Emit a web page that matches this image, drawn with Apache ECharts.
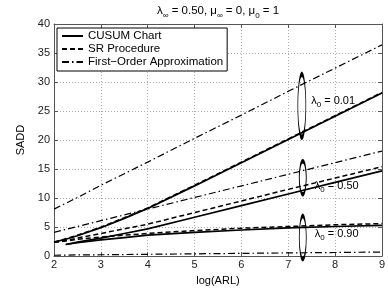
<!DOCTYPE html>
<html><head><meta charset="utf-8">
<script src="https://cdn.jsdelivr.net/npm/echarts@6/dist/echarts.min.js"></script>
<style>html,body{margin:0;padding:0;background:#fff}#c{width:388px;height:291px}</style>
</head><body><div id="c"></div>
<script>
// log(ARL) positions
const xs = [2, 2.25, 2.5, 3, 3.5, 4, 5, 6, 7, 8, 9];
// lambda0 = 0.01
const cusum001 = [2.4, 2.9, 3.5, 4.9, 6.5, 8.2, 12.1, 16.1, 20.1, 24.1, 28.1];
const sr001    = [2.4, 3.0, 3.6, 5.0, 6.6, 8.3, 12.2, 16.2, 20.2, 24.2, 28.2];
const fo001    = [8.1, 9.1, 10.1, 12.2, 14.2, 16.2, 20.3, 24.3, 28.4, 32.4, 36.4];
// lambda0 = 0.50
const cusum050 = [null, 2.0, 2.4, 3.1, 3.9, 4.7, 6.7, 8.7, 10.7, 12.7, 14.7];
const sr050    = [2.4, 2.7, 3.1, 3.9, 4.7, 5.5, 7.5, 9.5, 11.5, 13.45, 15.4];
const fo050    = [4.1, 4.6, 5.1, 6.1, 7.1, 8.1, 10.1, 12.1, 14.1, 16.1, 18.1];
// lambda0 = 0.90
const cusum090 = [null, 2.0, 2.3, 2.8, 3.2, 3.6, 4.1, 4.5, 4.85, 5.1, 5.3];
const sr090    = [2.4, 2.6, 2.9, 3.3, 3.6, 3.9, 4.4, 4.8, 5.1, 5.4, 5.6];
const fo090    = [0.15, 0.17, 0.2, 0.23, 0.27, 0.31, 0.39, 0.47, 0.55, 0.62, 0.7];
// annotations (data coords)
const annoLabels = ['0.01', '0.50', '0.90'];
const annoX = [7.29, 7.31, 7.31];
const annoY = [25.9, 13.5, 3.2];

const NAMES = ['CUSUM Chart', 'SR Procedure', 'First\u2212Order Approximation'];
const FONT = 'Liberation Sans, Arial, Helvetica, sans-serif';
function pts(ys){ return xs.map((x,i)=> ys[i]==null ? [x, null] : [x, ys[i]]); }
const styles = [
  {type:'solid', width:1.7},
  {type:[5,3], width:1.5},
  {type:[7,3,1.5,3], width:1.2}
];
const groups = [[cusum001, sr001, fo001],[cusum050, sr050, fo050],[cusum090, sr090, fo090]];
const series = [];
groups.forEach(g => g.forEach((ys, k) => {
  series.push({
    name: NAMES[k], type:'line', data: pts(ys), showSymbol:false, symbol:'none',
    connectNulls:false, animation:false, silent:true,
    lineStyle: Object.assign({color:'#000'}, styles[k]), itemStyle:{color:'#000'}
  });
}));
const ELL = 'path://M0,50 A50,50 0 1,0 100,50 A50,50 0 1,0 0,50 Z';
const ellSizes = [[8,63],[7,33],[7,43]];
const lblOffsets = [[5,-5],[8,8],[8,-4]];
series.push({
  name:'annot', type:'scatter', data:[], animation:false, silent:true,
  markPoint:{
    animation:false, silent:true,
    data: annoLabels.map((t,i)=>({
      coord:[annoX[i], annoY[i]], symbol: ELL, symbolSize: ellSizes[i],
      itemStyle:{color:'rgba(0,0,0,0)', borderColor:'#000', borderWidth:2},
      label:{show:true, position:'right', distance:lblOffsets[i][0], offset:[0,lblOffsets[i][1]],
        formatter:'{a|\u03bb}{b|0}{a| = '+t+'}',
        rich:{a:{fontSize:11, fontFamily:FONT, color:'#000', lineHeight:16},
              b:{fontSize:8, fontFamily:FONT, color:'#000', lineHeight:16, verticalAlign:'bottom'}}}
    }))
  }
});
const axisCommon = {
  axisLine:{show:true, onZero:false, lineStyle:{color:'#555', width:1}},
  axisTick:{show:true, inside:true, length:4, lineStyle:{color:'#555'}},
};
const chart = echarts.init(document.getElementById('c'), null, {renderer:'canvas'});
chart.setOption({
  animation:false,
  backgroundColor:'#fff',
  title:{
    text:'{a|\u03bb}{b|\u221e}{a| = 0.50, \u03bc}{b|\u221e}{a| = 0, \u03bc}{b|0}{a| = 1}',
    left:157, top:2, padding:0,
    textStyle:{fontWeight:'normal', rich:{a:{fontSize:11.5, fontWeight:'normal', fontFamily:FONT, color:'#000', lineHeight:18},
                     b:{fontSize:8, fontWeight:'normal', fontFamily:FONT, color:'#000', lineHeight:18, verticalAlign:'bottom'}}}
  },
  legend:{
    data:NAMES, orient:'vertical', left:57, top:28, itemWidth:21, itemHeight:12, itemGap:1,
    padding:[2,4,3,4], borderColor:'#000', borderWidth:1, backgroundColor:'#fff',
    itemStyle:{opacity:0, color:'rgba(0,0,0,0)', borderWidth:0},
    textStyle:{fontSize:11.5, fontFamily:FONT, color:'#000'}, selectedMode:false, z:10
  },
  grid:{left:54, right:6, top:24, bottom:28, containLabel:false},
  xAxis:[
    Object.assign({type:'value', min:2, max:9, interval:1, position:'bottom',
      name:'log(ARL)', nameLocation:'middle', nameGap:14,
      nameTextStyle:{fontSize:11, fontFamily:FONT, color:'#000'},
      axisLabel:{fontSize:11, fontFamily:FONT, color:'#222', margin:3},
      splitLine:{show:true, lineStyle:{type:[1,2], color:'#aaa', width:1}}}, axisCommon),
    Object.assign({type:'value', min:2, max:9, interval:1, position:'top',
      axisLabel:{show:false}, splitLine:{show:false}}, axisCommon)
  ],
  yAxis:[
    Object.assign({type:'value', min:0, max:40, interval:5, position:'left',
      name:'SADD', nameLocation:'middle', nameGap:20,
      nameTextStyle:{fontSize:11, fontFamily:FONT, color:'#000'},
      axisLabel:{fontSize:11, fontFamily:FONT, color:'#222', margin:4},
      splitLine:{show:true, lineStyle:{type:[1,2], color:'#aaa', width:1}}}, axisCommon),
    Object.assign({type:'value', min:0, max:40, interval:5, position:'right',
      axisLabel:{show:false}, splitLine:{show:false}}, axisCommon)
  ],
  series: series
});
</script></body></html>
